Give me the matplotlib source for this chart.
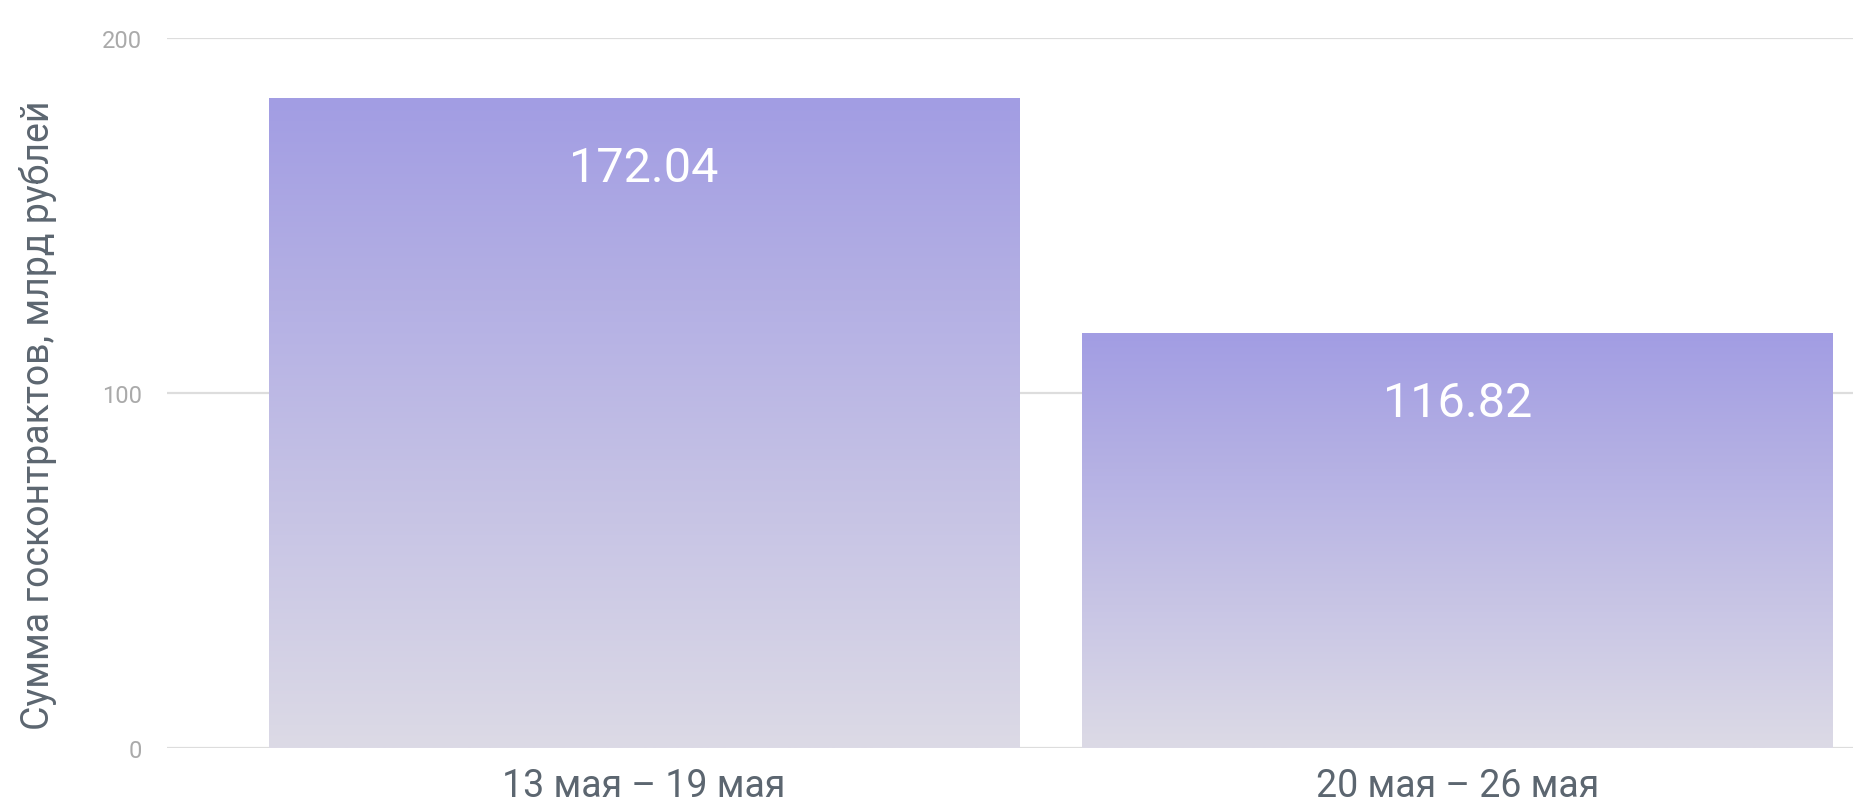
import numpy as np
import matplotlib.pyplot as plt
from matplotlib.colors import LinearSegmentedColormap

# данные
weeks = ["13 мая – 19 мая", "20 мая – 26 мая"]
bar_heights = [183.0, 116.8]          # высота столбцов, как на картинке
bar_labels = ["172.04", "116.82"]     # подписи на столбцах
y_ticks = [0, 100, 200]

plt.rcParams['font.family'] = ['Roboto', 'DejaVu Sans']

fig = plt.figure(figsize=(18.53, 8.04), dpi=100)
ax = fig.add_axes([167 / 1853, 55 / 804, 1 - 167 / 1853, 710 / 804])

grad = LinearSegmentedColormap.from_list("bar", ["#dcdae6", "#a29de3"])
x = np.arange(len(weeks))
bars = ax.bar(x, bar_heights, width=0.922, color="none", zorder=2)

gradient = np.linspace(0, 1, 256).reshape(-1, 1)
for rect, lab in zip(bars, bar_labels):
    x0, y0 = rect.get_x(), rect.get_y()
    w, h = rect.get_width(), rect.get_height()
    ax.imshow(gradient, cmap=grad, origin="lower", aspect="auto",
              extent=(x0, x0 + w, y0, y0 + h), zorder=2)
    # подпись внутри столбца
    ax.annotate(lab, (x0 + w / 2, y0 + h), xytext=(0, -50), textcoords="offset points",
                ha="center", va="center", color="white", fontsize=35, zorder=3)

ax.set_xlim(-0.586, 1.486)
ax.set_ylim(0, 200)
ax.set_yticks(y_ticks)
ax.set_xticks(x)
ax.set_xticklabels(weeks)
ax.grid(axis="y", color="#dddddd", linewidth=1.6, zorder=1)
ax.set_axisbelow(True)
for s in ax.spines.values():
    s.set_visible(False)
ax.tick_params(axis="y", length=0, pad=18, labelsize=17, labelcolor="#aaaaaa")
ax.tick_params(axis="x", length=0, pad=14, labelsize=27, labelcolor="#5c6670")

ax.set_ylabel("Сумма госконтрактов, млрд рублей", fontsize=27, color="#5c6670")
ax.yaxis.label.set_va("center")
ax.yaxis.set_label_coords(-0.0765, 0.47)

fig.savefig("out.png", dpi=100)
